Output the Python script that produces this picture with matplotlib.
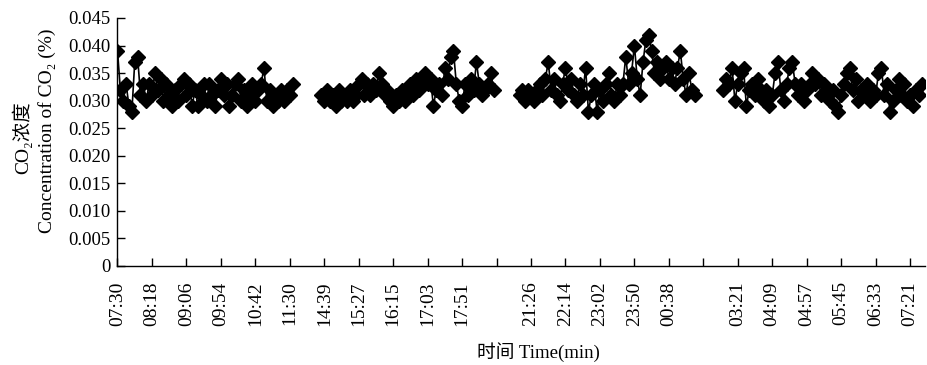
import numpy as np
import matplotlib
matplotlib.use("Agg")
import matplotlib.pyplot as plt

# ---------------- data ----------------
tick_labels = ["07:30", "08:18", "09:06", "09:54", "10:42", "11:30", "14:39", "15:27",
               "16:15", "17:03", "17:51", "", "21:26", "22:14", "23:02", "23:50",
               "00:38", "", "03:21", "04:09", "04:57", "05:45", "06:33", "07:21"]
points_per_tick = 12
n_categories = 282

seg1_start = 0
seg1 = [0.039, 0.032, 0.030, 0.033, 0.029, 0.028, 0.037, 0.038, 0.031, 0.033,
        0.030, 0.033, 0.031, 0.035, 0.032, 0.034, 0.030, 0.033, 0.031, 0.029,
        0.032, 0.030, 0.033, 0.034, 0.031, 0.033, 0.029, 0.032, 0.029, 0.031,
        0.033, 0.030, 0.033, 0.031, 0.029, 0.032, 0.034, 0.031, 0.033, 0.029,
        0.031, 0.033, 0.034, 0.030, 0.032, 0.029, 0.031, 0.033, 0.030, 0.032,
        0.033, 0.036, 0.030, 0.032, 0.029, 0.031, 0.030, 0.032, 0.030, 0.032,
        0.031, 0.033]
seg2_start = 71
seg2 = [0.031, 0.030, 0.032, 0.030, 0.031, 0.029, 0.032, 0.030, 0.031, 0.030,
        0.032, 0.030, 0.031, 0.033, 0.034, 0.031, 0.033, 0.031, 0.033, 0.032,
        0.035, 0.033, 0.031, 0.032, 0.030, 0.029, 0.031, 0.030, 0.032, 0.030,
        0.031, 0.033, 0.031, 0.034, 0.032, 0.034, 0.035, 0.033, 0.034, 0.029,
        0.032, 0.033, 0.031, 0.036, 0.034, 0.038, 0.039, 0.033, 0.030, 0.029,
        0.033, 0.031, 0.034, 0.032, 0.037, 0.033, 0.031, 0.032, 0.033, 0.035,
        0.032]
seg3_start = 140
seg3 = [0.031, 0.032, 0.030, 0.032, 0.031, 0.030, 0.032, 0.033, 0.031, 0.034,
        0.037, 0.032, 0.034, 0.031, 0.030, 0.033, 0.036, 0.032, 0.034, 0.031,
        0.030, 0.033, 0.031, 0.036, 0.028, 0.031, 0.033, 0.028, 0.032, 0.030,
        0.033, 0.035, 0.031, 0.030, 0.033, 0.031, 0.033, 0.038, 0.033, 0.035,
        0.040, 0.034, 0.031, 0.037, 0.041, 0.042, 0.039, 0.035, 0.037, 0.034,
        0.036, 0.037, 0.034, 0.036, 0.033, 0.036, 0.039, 0.034, 0.031, 0.035,
        0.032, 0.031]
seg4_start = 211
seg4 = [0.032, 0.034, 0.033, 0.036, 0.030, 0.033, 0.035, 0.036, 0.029, 0.032,
        0.033, 0.031, 0.034, 0.032, 0.030, 0.032, 0.029, 0.031, 0.035, 0.037,
        0.032, 0.030, 0.033, 0.036, 0.037, 0.033, 0.031, 0.033, 0.030, 0.032,
        0.033, 0.035, 0.033, 0.034, 0.031, 0.033, 0.032, 0.030, 0.032, 0.029,
        0.028, 0.031, 0.033, 0.035, 0.036, 0.032, 0.034, 0.030, 0.032, 0.031,
        0.033, 0.030, 0.032, 0.031, 0.035, 0.036, 0.031, 0.033, 0.028, 0.030,
        0.032, 0.034, 0.031, 0.033, 0.030, 0.031, 0.029, 0.032, 0.031, 0.033]

y_ticks = [0, 0.005, 0.010, 0.015, 0.020, 0.025, 0.030, 0.035, 0.040, 0.045]
y_tick_labels = ["0", "0.005", "0.010", "0.015", "0.020", "0.025", "0.030",
                 "0.035", "0.040", "0.045"]

# ---------------- build series ----------------
values = np.full(n_categories, np.nan)
for start, seg in [(seg1_start, seg1), (seg2_start, seg2), (seg3_start, seg3), (seg4_start, seg4)]:
    values[start:start + len(seg)] = seg
x = np.arange(n_categories)

SERIF = ["Liberation Serif", "Noto Sans CJK SC", "DejaVu Serif"]
plt.rcParams["font.family"] = SERIF

fig = plt.figure(figsize=(9.28, 3.65), dpi=100)
ax = fig.add_axes([117.5 / 928, 1 - 266 / 365, (925 - 117.5) / 928, (266 - 18) / 365])

ax.plot(x, values, color="black", lw=1.2, marker="D", ms=7, mfc="black", mec="black")

ax.set_xlim(0, 281.2)
ax.set_ylim(0, 0.045)
ax.spines["top"].set_visible(False)
ax.spines["right"].set_visible(False)
for s in ["left", "bottom"]:
    ax.spines[s].set_linewidth(1.0)

ax.set_xticks(np.arange(len(tick_labels)) * points_per_tick)
ax.set_xticklabels(tick_labels, rotation=90, fontsize=14)
ax.set_yticks(y_ticks)
ax.set_yticklabels(y_tick_labels, fontsize=13.5)
ax.tick_params(axis="x", direction="in", length=6, width=1, pad=11)
ax.tick_params(axis="y", direction="in", length=6, width=1, pad=5)

fig.text(22 / 928, 1 - 138 / 365, "CO₂浓度", rotation=90, ha="center", va="center", fontsize=14)
fig.text(47 / 928, 1 - 131 / 365, "Concentration of CO₂ (%)", rotation=90, ha="center",
         va="center", fontsize=14)
fig.text(538 / 928, 1 - 352 / 365, "时间 Time(min)", ha="center", va="center", fontsize=13.5)

fig.savefig("out.png", dpi=100)
